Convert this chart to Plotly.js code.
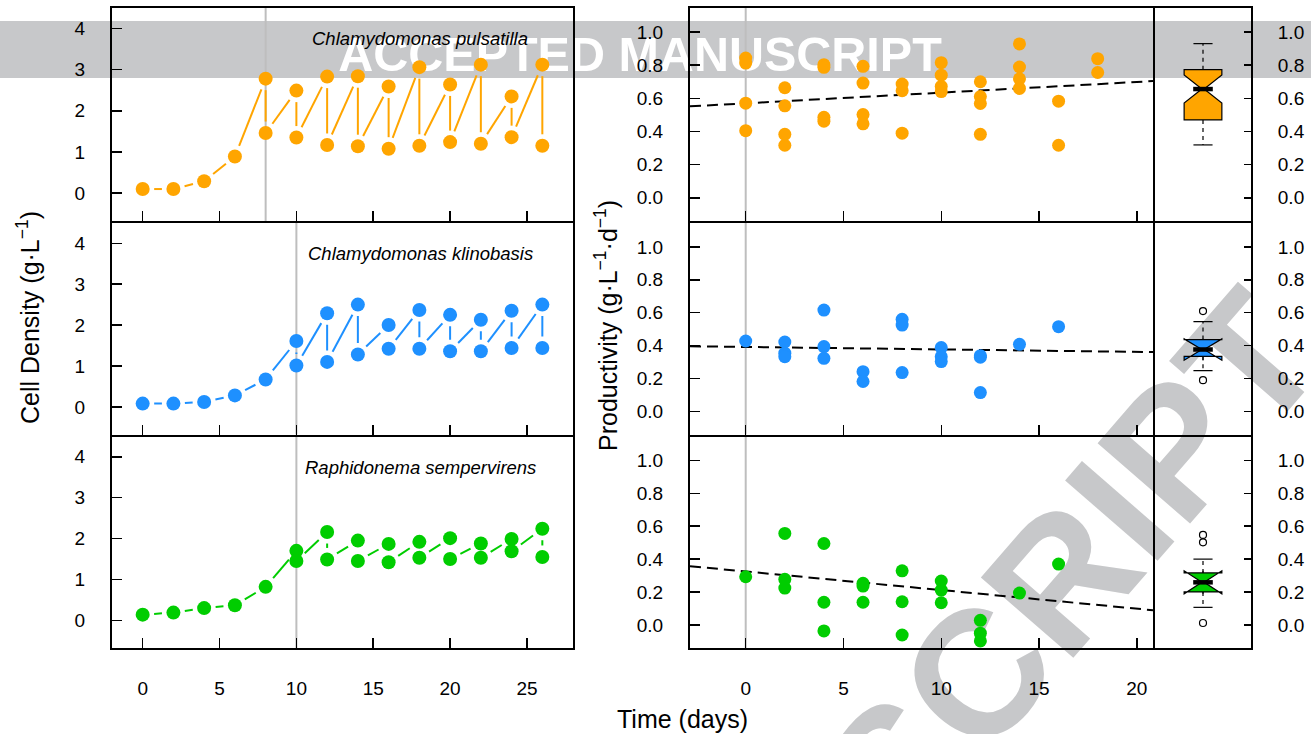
<!DOCTYPE html>
<html><head><meta charset="utf-8">
<script src="https://cdn.plot.ly/plotly-3.0.1.min.js"></script>
<style>html,body{margin:0;padding:0;background:#fff}</style>
</head><body><div id="chart" style="width:1311px;height:734px"></div>
<script>
// ---------------- DATA ----------------
const speciesNames = ['Chlamydomonas pulsatilla', 'Chlamydomonas klinobasis', 'Raphidonema sempervirens'];
const days = [0, 2, 4, 6, 8, 10, 12, 14, 16, 18, 20, 22, 24, 26];
const dilutionStart = [8, 10, 10];
// cell density before dilution / after dilution (g/L)
const densPre1  = [0.10, 0.10, 0.29, 0.89, 2.78, 2.49, 2.83, 2.84, 2.59, 3.06, 2.64, 3.12, 2.35, 3.12];
const densPost1 = [null, null, null, null, 1.46, 1.35, 1.17, 1.14, 1.08, 1.15, 1.24, 1.20, 1.36, 1.15];
const densPre2  = [0.08, 0.08, 0.12, 0.28, 0.67, 1.61, 2.29, 2.50, 2.00, 2.37, 2.25, 2.13, 2.35, 2.50];
const densPost2 = [null, null, null, null, null, 1.01, 1.10, 1.28, 1.42, 1.42, 1.36, 1.36, 1.44, 1.44];
const densPre3  = [0.14, 0.19, 0.30, 0.37, 0.82, 1.70, 2.16, 1.95, 1.87, 1.92, 2.01, 1.88, 1.99, 2.24];
const densPost3 = [null, null, null, null, null, 1.45, 1.49, 1.45, 1.42, 1.53, 1.50, 1.53, 1.69, 1.55];
// productivity (g/L/d) vs days since dilution start
const prodDay1 = [0,0,0,0, 2,2,2,2, 4,4,4,4, 6,6,6,6, 8,8,8, 10,10,10,10, 12,12,12,12, 14,14,14,14, 16,16, 18,18];
const prod1 = [0.843,0.813,0.571,0.405, 0.664,0.555,0.383,0.317, 0.803,0.787,0.486,0.462, 0.793,0.692,0.502,0.446,
               0.686,0.646,0.390, 0.815,0.740,0.672,0.641, 0.700,0.611,0.569,0.383, 0.928,0.789,0.718,0.660, 0.583,0.317, 0.839,0.756];
const prodDay2 = [0, 2,2,2, 4,4,4, 6,6, 8,8,8, 10,10,10, 12,12,12, 14, 16];
const prod2 = [0.428, 0.422,0.354,0.333, 0.616,0.394,0.323, 0.242,0.182, 0.560,0.525,0.236, 0.388,0.333,0.303, 0.339,0.330,0.115, 0.408, 0.515];
const prodDay3 = [0, 2,2,2, 4,4,4, 6,6,6, 8,8,8, 10,10,10, 12,12,12, 14, 16];
const prod3 = [0.293, 0.556,0.277,0.224, 0.495,0.138,-0.036, 0.253,0.236,0.138, 0.329,0.141,-0.061, 0.267,0.212,0.135, 0.028,-0.050,-0.097, 0.194, 0.370];
// linear fits
const fitIntercept = [0.570, 0.392, 0.325];
const fitSlope = [0.00643, -0.0015, -0.0113];
// box plot statistics
const boxQ1 = [0.470, 0.335, 0.201];
const boxMedian = [0.656, 0.376, 0.259];
const boxQ3 = [0.773, 0.437, 0.316];
const boxNotch = [0.085, 0.065, 0.070];
const boxLow = [0.319, 0.248, 0.107];
const boxHigh = [0.930, 0.546, 0.400];
const boxOutliers = [[], [0.610, 0.190], [0.547, 0.502, 0.012]];
const leftTicks = [0, 1, 2, 3, 4];
const leftXTicks = [0, 5, 10, 15, 20, 25];
const rightXTicks = [0, 5, 10, 15, 20];
const rightTicks = [0, 0.2, 0.4, 0.6, 0.8, 1.0];

// ---------------- STYLE / LAYOUT ----------------
const W = 1311, H = 734;
const LW = 2;                       // frame line width
const FONT = 'Liberation Sans, Arial, Helvetica, sans-serif';
const colors = ['rgb(255,165,0)', 'rgb(30,144,255)', 'rgb(0,205,0)'];
// frame line centre positions (px)
const rowEdges = [[7, 222], [222, 435.5], [435.5, 649]];
const colL = [111, 574], colR = [689, 1154], colB = [1154, 1252];
// axis ranges at the frame line centres
const frameXL = [-2.06, 28.06], frameYL = [-0.70, 4.52];
const frameXR = [-2.9, 20.88], frameYR = [-0.146, 1.151];
const frameXB = [0, 2];

function inset(pxEdges, rng) {      // plot area sits inside the frame lines
  const per = (rng[1] - rng[0]) / (pxEdges[1] - pxEdges[0]);
  const d = LW / 2;
  return {px: [pxEdges[0] + d, pxEdges[1] - d], range: [rng[0] + d * per, rng[1] - d * per]};
}
const xDom = c => [c[0] / W, c[1] / W];
const yDom = r => [1 - r[1] / H, 1 - r[0] / H];
const yRng = (r, rng) => { const s = inset(r, [rng[1], rng[0]]); return {px: s.px, range: [s.range[1], s.range[0]]}; };

const L = inset(colL, frameXL), R = inset(colR, frameXR), B = inset(colB, frameXB);
const rowsL = rowEdges.map(r => yRng(r, frameYL));
const rowsR = rowEdges.map(r => yRng(r, frameYR));

const sxL = (L.px[1] - L.px[0]) / (L.range[1] - L.range[0]);
const syRow = rowsL.map(o => (o.px[1] - o.px[0]) / (o.range[1] - o.range[0]));

function gapped(xs, ys, sx, sy, gap) {
  const gx = [], gy = [];
  for (let k = 0; k < xs.length - 1; k++) {
    const dx = (xs[k + 1] - xs[k]) * sx, dy = (ys[k + 1] - ys[k]) * sy;
    const len = Math.hypot(dx, dy);
    if (len <= 2 * gap + 1) continue;
    const t = gap / len;
    gx.push(xs[k] + t * (xs[k + 1] - xs[k]), xs[k + 1] - t * (xs[k + 1] - xs[k]), null);
    gy.push(ys[k] + t * (ys[k + 1] - ys[k]), ys[k + 1] - t * (ys[k + 1] - ys[k]), null);
  }
  return {x: gx, y: gy};
}

const traces = [];
const dens = [[densPre1, densPost1], [densPre2, densPost2], [densPre3, densPost3]];
const prodX = [prodDay1, prodDay2, prodDay3], prodY = [prod1, prod2, prod3];
const sfx = n => (n === 1 ? '' : String(n));

for (let i = 0; i < 3; i++) {
  const xa = 'x' + sfx(i + 1), ya = 'y' + sfx(i + 1);
  const px = [], py = [];
  days.forEach((d, k) => {
    px.push(d); py.push(dens[i][0][k]);
    if (dens[i][1][k] != null) { px.push(d); py.push(dens[i][1][k]); }
  });
  const g = gapped(px, py, sxL, syRow[i], 11.5);
  traces.push({type: 'scatter', mode: 'lines', x: g.x, y: g.y, xaxis: xa, yaxis: ya,
    line: {color: colors[i], width: 2}, hoverinfo: 'skip', showlegend: false});
  traces.push({type: 'scatter', mode: 'markers', x: px, y: py, xaxis: xa, yaxis: ya,
    marker: {color: colors[i], size: 14}, showlegend: false});
}

for (let i = 0; i < 3; i++) {
  const xa = 'x' + (i + 4), ya = 'y' + (i + 4);
  const fx = [R.range[0], R.range[1]];
  traces.push({type: 'scatter', mode: 'lines', x: fx, y: fx.map(v => fitIntercept[i] + fitSlope[i] * v),
    xaxis: xa, yaxis: ya, line: {color: 'black', width: 2, dash: '11px,6px'}, showlegend: false, hoverinfo: 'skip'});
  traces.push({type: 'scatter', mode: 'markers', x: prodX[i], y: prodY[i], xaxis: xa, yaxis: ya,
    marker: {color: colors[i], size: 13}, showlegend: false});
}

const stapleHalf = 0.195, medianHalf = 0.2;
for (let i = 0; i < 3; i++) {
  const xa = 'x' + (i + 7), ya = 'y' + (i + 7);
  traces.push({type: 'scatter', mode: 'lines', x: [1, 1, null, 1, 1], y: [boxQ3[i], boxHigh[i], null, boxQ1[i], boxLow[i]],
    xaxis: xa, yaxis: ya, line: {color: 'black', width: 1.2, dash: '4px,4px'}, showlegend: false, hoverinfo: 'skip'});
  traces.push({type: 'scatter', mode: 'lines',
    x: [1 - stapleHalf, 1 + stapleHalf, null, 1 - stapleHalf, 1 + stapleHalf],
    y: [boxHigh[i], boxHigh[i], null, boxLow[i], boxLow[i]],
    xaxis: xa, yaxis: ya, line: {color: 'black', width: 1.2}, showlegend: false, hoverinfo: 'skip'});
  traces.push({type: 'box', orientation: 'v', x: [1], q1: [boxQ1[i]], median: [boxMedian[i]], q3: [boxQ3[i]],
    lowerfence: [boxQ1[i]], upperfence: [boxQ3[i]], notchspan: [boxNotch[i]], notched: true, notchwidth: 0.47,
    width: 0.77, whiskerwidth: 0, boxpoints: false, fillcolor: colors[i],
    line: {color: 'black', width: 1.2}, xaxis: xa, yaxis: ya, showlegend: false});
  traces.push({type: 'scatter', mode: 'lines', x: [1 - medianHalf, 1 + medianHalf], y: [boxMedian[i], boxMedian[i]],
    xaxis: xa, yaxis: ya, line: {color: 'black', width: 4.5}, showlegend: false, hoverinfo: 'skip'});
  if (boxOutliers[i].length) {
    traces.push({type: 'scatter', mode: 'markers', x: boxOutliers[i].map(() => 1), y: boxOutliers[i],
      xaxis: xa, yaxis: ya, marker: {symbol: 'circle-open', size: 7, color: 'black', line: {width: 1.2}}, showlegend: false});
  }
}

const tickFont = {family: FONT, size: 19, color: 'black'};
const baseAx = {showline: true, linecolor: 'black', linewidth: LW, mirror: true, showgrid: false, zeroline: false,
  ticks: 'inside', tickcolor: 'black', tickwidth: 1.5, tickfont: tickFont, fixedrange: true};

const layout = {
  width: W, height: H, autosize: false,
  margin: {l: 0, r: 0, t: 0, b: 0, pad: 0},
  paper_bgcolor: 'white', plot_bgcolor: 'rgba(0,0,0,0)',
  showlegend: false, font: {family: FONT, color: 'black'},
  shapes: [], annotations: []
};

for (let i = 0; i < 3; i++) {
  const n = i + 1;
  layout['xaxis' + sfx(n)] = Object.assign({}, baseAx, {domain: xDom(L.px), anchor: 'y' + sfx(n), range: L.range,
    tickmode: 'array', tickvals: leftXTicks, ticklen: 10, showticklabels: i === 2, ticklabelstandoff: 22});
  layout['yaxis' + sfx(n)] = Object.assign({}, baseAx, {domain: yDom(rowsL[i].px), anchor: 'x' + sfx(n), range: rowsL[i].range,
    tickmode: 'array', tickvals: leftTicks, ticklen: 10, ticklabelstandoff: 21});
  layout['xaxis' + (i + 4)] = Object.assign({}, baseAx, {domain: xDom(R.px), anchor: 'y' + (i + 4), range: R.range,
    tickmode: 'array', tickvals: rightXTicks, ticklen: 10, showticklabels: i === 2, ticklabelstandoff: 22});
  layout['yaxis' + (i + 4)] = Object.assign({}, baseAx, {domain: yDom(rowsR[i].px), anchor: 'x' + (i + 4), range: rowsR[i].range,
    tickmode: 'array', tickvals: rightTicks, tickformat: '.1f', ticklen: 10, ticklabelstandoff: 21});
  layout['xaxis' + (i + 7)] = Object.assign({}, baseAx, {domain: xDom(B.px), anchor: 'y' + (i + 7), range: B.range,
    ticks: '', showticklabels: false});
  layout['yaxis' + (i + 7)] = Object.assign({}, baseAx, {domain: yDom(rowsR[i].px), anchor: 'x' + (i + 7), range: rowsR[i].range,
    side: 'right', tickmode: 'array', tickvals: rightTicks, tickformat: '.1f', ticklen: 7, ticklabelstandoff: 21});

  layout.shapes.push({type: 'line', xref: 'x' + sfx(n), yref: 'y' + sfx(n) + ' domain', x0: dilutionStart[i], x1: dilutionStart[i],
    y0: 0, y1: 1, line: {color: 'rgb(190,190,190)', width: 2}, layer: 'below'});
  layout.shapes.push({type: 'line', xref: 'x' + (i + 4), yref: 'y' + (i + 4) + ' domain', x0: 0, x1: 0,
    y0: 0, y1: 1, line: {color: 'rgb(190,190,190)', width: 2}, layer: 'below'});

  layout.annotations.push({xref: 'paper', yref: 'paper', x: 420 / W, y: 1 - (rowEdges[i][0] + 31.5) / H,
    xanchor: 'center', yanchor: 'middle', showarrow: false, borderpad: 0,
    text: '<i>' + speciesNames[i] + '</i>', font: {family: FONT, size: 18.5, color: 'black'}});
}

// watermark banner + diagonal watermark (drawn under the plot)
const wmGrey = 'rgb(199,200,202)';
layout.shapes.unshift(
  {type: 'rect', xref: 'paper', yref: 'paper', x0: 0, x1: 1, y0: 1 - 78 / H, y1: 1 - 21 / H,
   fillcolor: wmGrey, line: {width: 0}, layer: 'below'},
  {type: 'rect', xref: 'paper', yref: 'paper', x0: 345 / W, x1: 935 / W, y0: 1 - 78 / H, y1: 1 - 21 / H,
   fillcolor: 'rgba(0,0,0,0)', line: {width: 0}, layer: 'below',
   label: {text: 'ACCEPTED MANUSCRIPT', textposition: 'middle center',
           font: {family: FONT, size: 48.5, color: 'white', weight: 'bold'}}},
  {type: 'rect', xref: 'paper', yref: 'paper', x0: 878 / W, x1: 888 / W, y0: 1 - 762 / H, y1: 1 - 752 / H,
   fillcolor: 'rgba(0,0,0,0)', line: {width: 0}, layer: 'below',
   label: {text: 'MANUSCRIPT', textposition: 'middle center', textangle: -49,
           font: {family: FONT, size: 178, color: wmGrey, weight: 'bold'}}}
);

const titleFont = {family: FONT, size: 25, color: 'black'};
layout.annotations.push(
  {xref: 'paper', yref: 'paper', x: 28 / W, y: 1 - 318 / H, xanchor: 'center', yanchor: 'middle', textangle: -90,
   showarrow: false, text: 'Cell Density (g·L<sup>−1</sup>)', font: titleFont},
  {xref: 'paper', yref: 'paper', x: 606 / W, y: 1 - 326 / H, xanchor: 'center', yanchor: 'middle', textangle: -90,
   showarrow: false, text: 'Productivity (g·L<sup>−1</sup>·d<sup>−1</sup>)', font: titleFont},
  {xref: 'paper', yref: 'paper', x: 682 / W, y: 1 - 719 / H, xanchor: 'center', yanchor: 'middle',
   showarrow: false, text: 'Time (days)', font: titleFont}
);

Plotly.newPlot('chart', traces, layout, {displayModeBar: false, staticPlot: true});
</script>
</body></html>
